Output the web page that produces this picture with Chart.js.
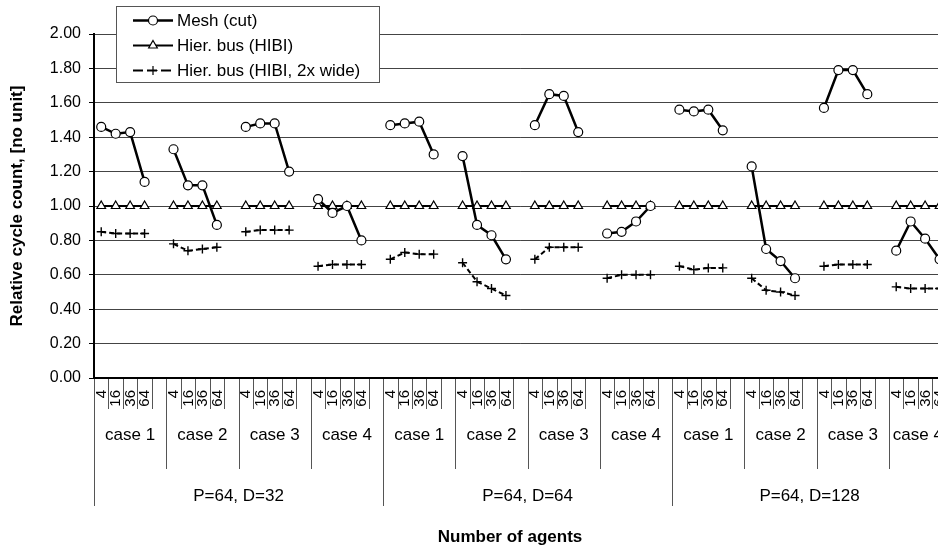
<!DOCTYPE html>
<html>
<head>
<meta charset="utf-8">
<title>Relative cycle count</title>
<script src="https://cdn.jsdelivr.net/npm/chart.js@4.4.1/dist/chart.umd.min.js"></script>
<style>
    html, body { margin: 0; padding: 0; background: #fff; overflow: hidden; }
    #wrap { position: relative; width: 953px; height: 550px; }
    #cycleChart { display: block; }
</style>
</head>
<body>
<div id="wrap"><canvas id="cycleChart" width="953" height="550"></canvas></div>
<script>
/* ---- data ---- */
const agentCounts = ['4', '16', '36', '64'];
const caseNames = ['case 1', 'case 2', 'case 3', 'case 4'];
const configNames = ['P=64, D=32', 'P=64, D=64', 'P=64, D=128'];

// 12 groups (config x case), 4 agent counts each
const meshCut = [
    1.46, 1.42, 1.43, 1.14,
    1.33, 1.12, 1.12, 0.89,
    1.46, 1.48, 1.48, 1.20,
    1.04, 0.96, 1.00, 0.80,
    1.47, 1.48, 1.49, 1.30,
    1.29, 0.89, 0.83, 0.69,
    1.47, 1.65, 1.64, 1.43,
    0.84, 0.85, 0.91, 1.00,
    1.56, 1.55, 1.56, 1.44,
    1.23, 0.75, 0.68, 0.58,
    1.57, 1.79, 1.79, 1.65,
    0.74, 0.91, 0.81, 0.69
];
const hibiBus = [
    1.00, 1.00, 1.00, 1.00,
    1.00, 1.00, 1.00, 1.00,
    1.00, 1.00, 1.00, 1.00,
    1.00, 1.00, 1.00, 1.00,
    1.00, 1.00, 1.00, 1.00,
    1.00, 1.00, 1.00, 1.00,
    1.00, 1.00, 1.00, 1.00,
    1.00, 1.00, 1.00, 1.00,
    1.00, 1.00, 1.00, 1.00,
    1.00, 1.00, 1.00, 1.00,
    1.00, 1.00, 1.00, 1.00,
    1.00, 1.00, 1.00, 1.00
];
const hibiWide = [
    0.85, 0.84, 0.84, 0.84,
    0.78, 0.74, 0.75, 0.76,
    0.85, 0.86, 0.86, 0.86,
    0.65, 0.66, 0.66, 0.66,
    0.69, 0.73, 0.72, 0.72,
    0.67, 0.56, 0.52, 0.48,
    0.69, 0.76, 0.76, 0.76,
    0.58, 0.60, 0.60, 0.60,
    0.65, 0.63, 0.64, 0.64,
    0.58, 0.51, 0.50, 0.48,
    0.65, 0.66, 0.66, 0.66,
    0.53, 0.52, 0.52, 0.52
];
const yTicks = ['0.00', '0.20', '0.40', '0.60', '0.80', '1.00', '1.20', '1.40', '1.60', '1.80', '2.00'];

const FONT = "'Liberation Sans', Arial, Helvetica, sans-serif";
const GROUP = agentCounts.length + 1;          // 4 points + one blank slot
const nGroups = configNames.length * caseNames.length;

// category labels with a blank slot between groups
function buildLabels() {
    const out = [];
    for (let g = 0; g < nGroups; g++) {
        agentCounts.forEach(a => out.push(a));
        if (g < nGroups - 1) out.push('');
    }
    return out;
}
function pad(values) {
    const out = [];
    for (let g = 0; g < nGroups; g++) {
        for (let i = 0; i < agentCounts.length; i++) out.push(values[g * agentCounts.length + i]);
        if (g < nGroups - 1) out.push(null);
    }
    return out;
}

const labels = buildLabels();

const seriesStyle = [
    { label: 'Mesh (cut)', data: meshCut, width: 2.5, dash: [], point: 'circle', r: 4.5 },
    { label: 'Hier. bus (HIBI)', data: hibiBus, width: 2, dash: [], point: 'triangle', r: 5 },
    { label: 'Hier. bus (HIBI, 2x wide)', data: hibiWide, width: 2, dash: [5, 3], point: 'cross', r: 4.5 }
];

/* ---- multi-level category axis + boxed legend ---- */
const excelAxisPlugin = {
    id: 'excelAxis',
    afterDraw(chart) {
        const { ctx, chartArea } = chart;
        const x = chart.scales.x;
        const n = labels.length;
        const step = x.getPixelForValue(1) - x.getPixelForValue(0);
        const edge = k => x.getPixelForValue(k) - step / 2;
        const base = chartArea.bottom;
        const perConfig = GROUP * caseNames.length;

        ctx.save();
        // dividers
        ctx.strokeStyle = '#555';
        ctx.lineWidth = 1;
        for (let k = 0; k <= n; k++) {
            let end = base + 31;
            if (k % perConfig === 0 || k === n) end = base + 128;
            else if (k % GROUP === 0) end = base + 91;
            const px = Math.round(edge(k)) + 0.5;
            ctx.beginPath();
            ctx.moveTo(px, base + 1);
            ctx.lineTo(px, end);
            ctx.stroke();
        }

        ctx.fillStyle = '#000';
        // agent counts, vertical
        ctx.font = `15px ${FONT}`;
        ctx.textAlign = 'right';
        ctx.textBaseline = 'middle';
        labels.forEach((lab, i) => {
            if (!lab) return;
            ctx.save();
            ctx.translate(x.getPixelForValue(i) + 0.5, base + 12);
            ctx.rotate(-Math.PI / 2);
            ctx.fillText(lab, 0, 0);
            ctx.restore();
        });

        // case names
        ctx.font = `17px ${FONT}`;
        ctx.textAlign = 'center';
        for (let g = 0; g < nGroups; g++) {
            const cx = (edge(g * GROUP) + edge(Math.min((g + 1) * GROUP, n))) / 2;
            ctx.fillText(caseNames[g % caseNames.length], cx, base + 57);
        }
        // configurations
        configNames.forEach((name, c) => {
            const cx = (edge(c * perConfig) + edge(Math.min((c + 1) * perConfig, n))) / 2;
            ctx.fillText(name, cx, base + 118);
        });
        // axis title
        ctx.font = `bold 17px ${FONT}`;
        ctx.fillText('Number of agents', 510, base + 159);

        // legend box
        const lx = 116.5, ly = 6.5;
        ctx.fillStyle = '#fff';
        ctx.fillRect(lx, ly, 263, 76);
        ctx.strokeStyle = '#555';
        ctx.strokeRect(lx, ly, 263, 76);
        seriesStyle.forEach((s, i) => {
            const ry = 20.5 + i * 25;
            ctx.strokeStyle = '#000';
            ctx.lineWidth = s.width;
            ctx.setLineDash(s.dash.length ? [10, 4] : []);
            ctx.beginPath();
            ctx.moveTo(133, ry);
            ctx.lineTo(173, ry);
            ctx.stroke();
            ctx.setLineDash([]);
            ctx.fillStyle = '#fff';
            ctx.lineWidth = 1.2;
            Chart.helpers.drawPoint(ctx, { pointStyle: s.point, radius: s.r, rotation: 0, borderWidth: 1.2 }, 153, ry);
            ctx.fillStyle = '#000';
            ctx.font = `17px ${FONT}`;
            ctx.textAlign = 'left';
            ctx.fillText(s.label, 177, ry + 0.5);
        });
        ctx.restore();
    }
};

function renderCycleChart() {
    const el = document.getElementById('cycleChart');
    if (!el) return;
    Chart.defaults.font.family = FONT;
    Chart.defaults.color = '#000';
    new Chart(el, {
        type: 'line',
        data: {
            labels: labels,
            datasets: seriesStyle.map(s => ({
                label: s.label,
                data: pad(s.data),
                borderColor: '#000',
                borderWidth: s.width,
                borderDash: s.dash,
                pointStyle: s.point,
                pointRadius: s.r,
                pointBackgroundColor: '#fff',
                pointBorderColor: '#000',
                pointBorderWidth: s.point === 'cross' ? 1.4 : 1.2,
                spanGaps: false,
                tension: 0,
                fill: false
            }))
        },
        options: {
            responsive: false, animation: false, devicePixelRatio: 1,
            layout: { padding: { top: 34, left: 0, right: 0, bottom: 0 } },
            plugins: { legend: { display: false }, tooltip: { enabled: false } },
            scales: {
                x: {
                    type: 'category', offset: true,
                    grid: { display: false },
                    border: { display: true, color: '#000', width: 2 },
                    ticks: { display: false },
                    afterFit: s => { s.height = 172; }
                },
                y: {
                    min: 0, max: 2,
                    afterBuildTicks: s => { s.ticks = yTicks.map(t => ({ value: parseFloat(t) })); },
                    ticks: { callback: (v, i) => yTicks[i], font: { size: 16 }, color: '#000', padding: 8 },
                    grid: { color: '#444', lineWidth: 1, drawTicks: true, tickLength: 5, tickColor: '#000' },
                    border: { display: true, color: '#000', width: 2 },
                    title: { display: true, text: 'Relative cycle count, [no unit]', font: { size: 17, weight: 'bold' }, color: '#000', padding: { top: 7, bottom: 0 } },
                    afterFit: s => { s.width = 94; }
                }
            }
        },
        plugins: [excelAxisPlugin]
    });
}

document.addEventListener('DOMContentLoaded', renderCycleChart);
</script>
</body>
</html>
